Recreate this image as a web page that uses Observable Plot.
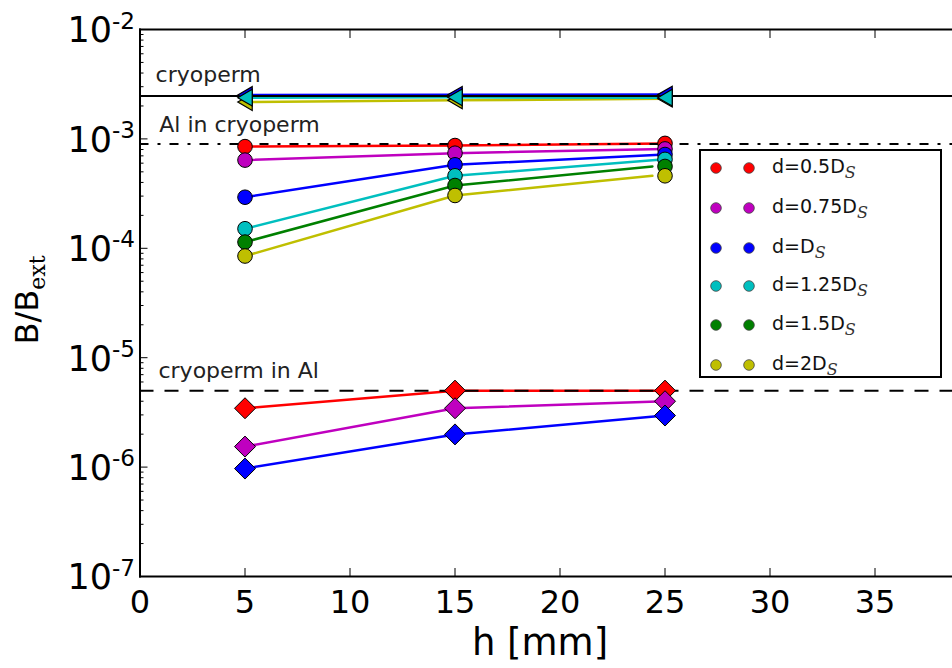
<!DOCTYPE html>
<html><head><meta charset="utf-8">
<script src="https://cdn.jsdelivr.net/npm/d3@7"></script>
<script src="https://cdn.jsdelivr.net/npm/@observablehq/plot@0.6"></script>
<style>
body{margin:0;background:#fff;font-family:"DejaVu Sans",sans-serif;}
#wrap{position:relative;width:952px;height:668px;overflow:hidden;background:#fff;}
#legend{position:absolute;left:699px;top:149px;width:243px;height:229px;border:2px solid #000;background:#fff;box-sizing:border-box;}
.row{position:absolute;left:0;width:240px;height:30px;}
.row svg{position:absolute;left:0;top:0;}
.row span{position:absolute;left:71px;top:2px;font-size:19px;color:#111;white-space:nowrap;font-family:"DejaVu Sans";}
.row sub{font-family:"DejaVu Serif";font-style:italic;font-size:16px;vertical-align:-5px;color:#333;}
</style></head>
<body><div id="wrap"></div>
<script>
// ---- data ----
const hValues = [5, 15, 25];
const seriesLabels = ["0.5", "0.75", "", "1.25", "1.5", "2"];
const seriesColors = ["#ff0000", "#bf00bf", "#0000ff", "#00bfbf", "#008000", "#bfbf00"];
// Al in cryoperm (circles)
const alInCryoperm = [
  [8.5e-4, 8.7e-4, 9.1e-4],
  [6.4e-4, 7.4e-4, 8.1e-4],
  [2.93e-4, 5.8e-4, 7.2e-4],
  [1.51e-4, 4.6e-4, 6.5e-4],
  [1.14e-4, 3.75e-4, 5.6e-4],
  [8.5e-5, 3.04e-4, 4.6e-4]
];
const alLineEndH = [25, 25, 25, 25, 24.4, 24.4];
// cryoperm (left triangles): series index and values
const cryopermSeries = [5, 2, 3];
const cryopermValues = [
  [2.17e-3, 2.25e-3, 2.33e-3],
  [2.52e-3, 2.53e-3, 2.54e-3],
  [2.38e-3, 2.40e-3, 2.38e-3]
];
// cryoperm in Al (diamonds)
const cryoInAlSeries = [0, 1, 2];
const cryoInAl = [
  [3.45e-6, 5.0e-6, 5.0e-6],
  [1.54e-6, 3.45e-6, 4.0e-6],
  [9.7e-7, 1.99e-6, 2.96e-6]
];
// reference levels
const refValues = [2.47e-3, 9.0e-4, 5.0e-6];
const refLabels = ["cryoperm", "Al in cryoperm", "cryoperm in Al"];
const refLabelH = [0.74, 0.92, 0.88];
const refLabelV = [3.82e-3, 1.33e-3, 7.6e-6];
// ticks
const xTicks = [0, 5, 10, 15, 20, 25, 30, 35];
const yExponents = [-7, -6, -5, -4, -3, -2];
const yDecades = yExponents.map(e => Math.pow(10, e));
const yMinor = [];
for (const e of yExponents.slice(0, -1)) for (let k = 2; k <= 9; k++) yMinor.push(k * Math.pow(10, e));

// ---- tables ----
const lineRows = [], circleRows = [];
alInCryoperm.forEach((vals, i) => vals.forEach((v, j) => {
  lineRows.push({s: i, h: j === 2 ? alLineEndH[i] : hValues[j], v, c: seriesColors[i]});
  circleRows.push({s: i, h: hValues[j], v, c: seriesColors[i]});
}));
const triRows = [];
cryopermValues.forEach((vals, k) => vals.forEach((v, j) => triRows.push({s: 10 + k, h: hValues[j], v, c: seriesColors[cryopermSeries[k]]})));
const diaRows = [];
cryoInAl.forEach((vals, k) => vals.forEach((v, j) => diaRows.push({s: 20 + k, h: hValues[j], v, c: seriesColors[cryoInAlSeries[k]]})));
const refLabelRows = refLabels.map((t, i) => ({t, h: refLabelH[i], v: refLabelV[i]}));

const triLeft = {draw(ctx, size) { const r = Math.sqrt(size / Math.PI); ctx.moveTo(-r * 0.95, 0); ctx.lineTo(r * 0.95, -r * 1.1); ctx.lineTo(r * 0.95, r * 1.1); ctx.closePath(); }};
const diamond = {draw(ctx, size) { const r = Math.sqrt(size / Math.PI); ctx.moveTo(0, -r); ctx.lineTo(r, 0); ctx.lineTo(0, r); ctx.lineTo(-r, 0); ctx.closePath(); }};

const svg = Plot.plot({
  width: 952, height: 668,
  marginLeft: 139.5, marginRight: 0, marginTop: 29, marginBottom: 92,
  x: {domain: [0, 38.69]},
  y: {type: "log", domain: [1e-7, 1e-2]},
  color: {type: "identity"},
  style: {fontFamily: "DejaVu Sans", background: "white", color: "black"},
  marks: [
    Plot.line(lineRows, {x: "h", y: "v", z: "s", stroke: "c", strokeWidth: 2.5}),
    Plot.line(triRows, {x: "h", y: "v", z: "s", stroke: "c", strokeWidth: 2.5}),
    Plot.line(diaRows, {x: "h", y: "v", z: "s", stroke: "c", strokeWidth: 2.5}),
    Plot.ruleY([refValues[0]], {stroke: "black", strokeWidth: 2}),
    Plot.ruleY([refValues[1]], {stroke: "black", strokeWidth: 2, strokeDasharray: "9,9,3,9"}),
    Plot.ruleY([refValues[2]], {stroke: "black", strokeWidth: 2, strokeDasharray: "14,11"}),
    Plot.dot(circleRows, {x: "h", y: "v", fill: "c", stroke: "black", strokeWidth: 1, r: 7.3}),
    Plot.dot(triRows, {x: "h", y: "v", fill: "c", stroke: "black", strokeWidth: 1.2, r: 7.6, symbol: triLeft}),
    Plot.dot(diaRows, {x: "h", y: "v", fill: "c", stroke: "black", strokeWidth: 1, r: 10.5, symbol: diamond}),
    Plot.text(refLabelRows, {x: "h", y: "v", text: "t", textAnchor: "start", fontSize: 22, fill: "#222"}),
    Plot.axisX(xTicks, {anchor: "bottom", tickSize: 8, dy: -8, tickFormat: () => "", label: null}),
    Plot.axisX(xTicks, {anchor: "top", tickSize: 8, dy: 8, tickFormat: () => "", label: null}),
    Plot.axisY(yDecades, {anchor: "left", tickSize: 8, dx: 8, tickFormat: () => "", label: null}),
    Plot.axisY(yMinor, {anchor: "left", tickSize: 4, dx: 4, tickFormat: () => "", label: null}),
    Plot.axisX(xTicks, {anchor: "bottom", tickSize: 0, tickPadding: 14, fontSize: 32, label: null}),
    Plot.axisY(yDecades, {anchor: "left", tickSize: 0, tickPadding: 5, fontSize: 35, label: null,
      tickFormat: d => "10^" + Math.round(Math.log10(d))}),
    Plot.frame({anchor: "top", strokeWidth: 2}),
    Plot.frame({anchor: "bottom", strokeWidth: 2}),
    Plot.frame({anchor: "left", strokeWidth: 2})
  ]
});

// superscripts for log tick labels
d3.select(svg).selectAll("g[aria-label='y-axis tick label'] text").each(function() {
  const t = d3.select(this);
  const s = t.text();
  if (!s.includes("^")) return;
  const [base, exp] = s.split("^");
  t.text(null).attr("dy", "0.05em");
  t.append("tspan").text(base);
  t.append("tspan").attr("dy", "-0.6em").attr("font-size", "0.66em").text(exp);
});

// axis titles
const S = d3.select(svg);
S.append("text").attr("x", 540).attr("y", 655).attr("text-anchor", "middle")
  .attr("font-size", 37).attr("font-family", "DejaVu Sans").attr("fill", "black").text("h [mm]");
const yl = S.append("text").attr("transform", "translate(38,300) rotate(-90)").attr("text-anchor", "middle")
  .attr("font-size", 32).attr("font-family", "DejaVu Sans").attr("fill", "black");
yl.append("tspan").text("B/B");
yl.append("tspan").attr("font-family", "DejaVu Serif").attr("font-size", 22).attr("dy", 7).text("ext");

const wrap = document.getElementById("wrap");
wrap.appendChild(svg);

// legend
const legend = document.createElement("div");
legend.id = "legend";
const rowTops = [17, 57, 97, 135, 174, 214];
seriesColors.forEach((c, i) => {
  const row = document.createElement("div");
  row.className = "row";
  row.style.top = (rowTops[i] - 15) + "px";
  row.innerHTML = `<svg width="70" height="30"><circle cx="15" cy="15" r="5.3" fill="${c}" stroke="#444" stroke-width="0.8"/><circle cx="48" cy="15" r="5.3" fill="${c}" stroke="#444" stroke-width="0.8"/></svg>` +
    `<span>d=${seriesLabels[i]}D<sub>S</sub></span>`;
  legend.appendChild(row);
});
wrap.appendChild(legend);
</script>
</body></html>
